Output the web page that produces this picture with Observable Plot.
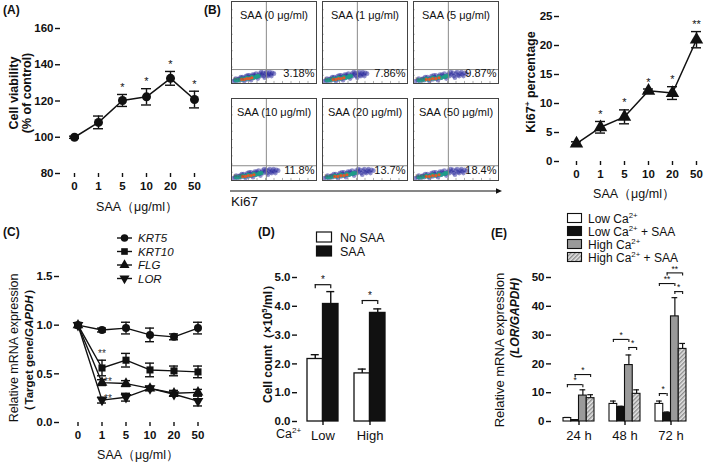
<!DOCTYPE html>
<html><head><meta charset="utf-8">
<script src="https://cdn.jsdelivr.net/npm/d3@7"></script>
<script src="https://cdn.jsdelivr.net/npm/@observablehq/plot@0.6"></script>
<style>
html,body{margin:0;padding:0;background:#fff}
#fig{position:relative;width:709px;height:462px;overflow:hidden;font-family:"Liberation Sans",Arial,Helvetica,sans-serif}
</style></head><body><div id="fig"></div>
<script>
// ---------------- DATA ----------------
const doses = ["0","1","5","10","20","50"];
// (A) cell viability
const viability    = [100, 108.2, 120.3, 122.3, 132.5, 120.8];
const viabilityErr = [0.6, 3.5, 3.3, 4.5, 3.8, 4.6];
const viabilitySig = ["", "", "*", "*", "*", "*"];
// (B) Ki67+ percentage
const ki67Pct = [3.1, 5.9, 7.7, 12.2, 11.8, 21.0];
const ki67Err = [0.3, 1.0, 1.2, 0.3, 1.1, 1.4];
const ki67Sig = ["", "*", "*", "*", "*", "**"];
// (B) flow cytometry panels
const flowCol = [0, 1, 2, 0, 1, 2];
const flowRow = [0, 0, 0, 1, 1, 1];
const flowTitles = ["SAA (0 μg/ml)", "SAA (1 μg/ml)", "SAA (5 μg/ml)", "SAA (10 μg/ml)", "SAA (20 μg/ml)", "SAA (50 μg/ml)"];
const flowPct = ["3.18%", "7.86%", "9.87%", "11.8%", "13.7%", "18.4%"];
const flowNeg = ["96.8%", "92.1%", "90.1%", "88.2%", "86.3%", "81.6%"];
const flowGateX = [41, 41, 41, 41, 41, 41];
const flowGateY = [17, 17, 17, 18, 18, 18];
const flowSpread = [1.0, 1.05, 1.25, 1.1, 1.2, 1.25];
const flowTicks = [10, 20, 30, 40, 50, 60, 70, 80, 90];
// cloud shape (percent of box)
const blueCloudX = [2,4,6,8,10,12,14,16,18,20,22,24,26,28,30,32,34,36,38,40,42,44,46,48,50,5,9,13,17,21,25,29,33,37,41,45,15,23,31,39,47,11,19,27,35,43];
const blueCloudY = [3,4,3,5,4,6,5,7,5,8,6,9,7,9,8,10,9,11,9,12,10,12,11,13,12,6,6,8,9,10,11,12,12,13,14,14,3,4,6,7,9,8,10,11,14,9];
const greenCloudX = [5,8,11,14,17,20,23,26,29,32,12,18,24,30];
const greenCloudY = [4,4,5,5,6,6,7,7,8,9,6,7,8,9];
const redCloudX = [12,15,18,21,24];
const redCloudY = [5,5,6,6,7];
// (C) relative mRNA expression
const genes = ["KRT5", "KRT10", "FLG", "LOR"];
const krt5Expr  = [1.0, 0.95, 0.97, 0.90, 0.88, 0.97];
const krt5Err   = [0, 0.02, 0.06, 0.07, 0.03, 0.06];
const krt10Expr = [1.0, 0.56, 0.64, 0.54, 0.53, 0.52];
const krt10Err  = [0, 0.08, 0.07, 0.07, 0.05, 0.06];
const flgExpr   = [1.0, 0.41, 0.40, 0.35, 0.30, 0.31];
const flgErr    = [0, 0.03, 0.03, 0.02, 0.03, 0.03];
const lorExpr   = [1.0, 0.23, 0.26, 0.35, 0.29, 0.22];
const lorErr    = [0, 0.03, 0.04, 0.02, 0.02, 0.05];
const cStarGenes = ["KRT10", "FLG", "LOR"];
// (D) cell count
const calcium = ["Low", "High"];
const countNoSAA = [2.17, 1.67];
const countNoSAAErr = [0.15, 0.15];
const countSAA = [4.08, 3.77];
const countSAAErr = [0.43, 0.14];
const dBracketLevel = [4.75, 4.2];
const dBracketLabel = ["*", "*"];
// (E) LOR expression
const times = ["24 h", "48 h", "72 h"];
const eSeriesNames = ["Low Ca²⁺", "Low Ca²⁺ + SAA", "High Ca²⁺", "High Ca²⁺ + SAA"];
const lorLowCa = [1.2, 6.1, 6.1];
const lorLowCaErr = [0.2, 1.0, 1.0];
const lorLowCaSAA = [0.5, 5.0, 2.9];
const lorLowCaSAAErr = [0.1, 0.3, 0.4];
const lorHighCa = [9.0, 19.6, 36.5];
const lorHighCaErr = [2.0, 3.5, 6.5];
const lorHighCaSAA = [8.1, 9.6, 25.2];
const lorHighCaSAAErr = [1.2, 1.4, 1.9];
const eBrTime  = ["24 h", "24 h", "48 h", "48 h", "72 h", "72 h", "72 h", "72 h"];
const eBrFrom  = [0, 1, 0, 2, 0, 0, 1, 2];
const eBrTo    = [2, 3, 2, 3, 1, 2, 3, 3];
const eBrLevel = [12.8, 16.3, 28.5, 25.7, 9.7, 47.9, 51.6, 45.1];
const eBrLabel = ["*", "*", "*", "*", "*", "**", "**", "*"];

// ---------------- HELPERS ----------------
const FONT = '"Liberation Sans", Arial, Helvetica, sans-serif';
const fig = document.getElementById("fig");
const baseStyle = {fontFamily: FONT, fontSize: "11.5px", fontWeight: "bold", color: "#111", background: "transparent", overflow: "visible"};
function place(el, left, top) {
  el.style.position = "absolute"; el.style.left = left + "px"; el.style.top = top + "px";
  fig.appendChild(el);
}
function bandX(domain, c0, cN, bw) {
  const n = domain.length, s = (cN - c0) / (n - 1), p = 1 - bw / s;
  return {type: "band", domain, range: [c0 - bw / 2, cN + bw / 2], paddingInner: p, paddingOuter: 0};
}
const sqrt3 = Math.sqrt(3);
const triangleDown = {draw(ctx, size) {
  const y = -Math.sqrt(size / (sqrt3 * 3));
  ctx.moveTo(0, -y * 2); ctx.lineTo(-sqrt3 * y, y); ctx.lineTo(sqrt3 * y, y); ctx.closePath();
}};
const SW = 1.4;
const INK = "#111";

// ---------------- (A) ----------------
const dataA = doses.map((d, i) => ({dose: d, v: viability[i], e: viabilityErr[i], sig: viabilitySig[i]}));
place(Plot.plot({
  width: 215, height: 225, marginLeft: 60, marginRight: 15, marginTop: 28, marginBottom: 52,
  style: baseStyle,
  x: bandX(doses, 73, 194, 10),
  y: {domain: [80, 160]},
  marks: [
    Plot.axisY({ticks: [80, 100, 120, 140, 160], tickSize: 5, tickPadding: 2, label: null, line: true, strokeWidth: SW}),
    Plot.axisX({tickSize: 4, tickPadding: 4, label: null, line: true, strokeWidth: SW}),
    Plot.ruleX(dataA, {x: "dose", y1: d => d.v - d.e, y2: d => d.v + d.e, strokeWidth: SW}),
    Plot.tickY(dataA, {x: "dose", y: d => d.v + d.e, strokeWidth: SW}),
    Plot.tickY(dataA, {x: "dose", y: d => d.v - d.e, strokeWidth: SW}),
    Plot.line(dataA, {x: "dose", y: "v", strokeWidth: 1.5}),
    Plot.dot(dataA, {x: "dose", y: "v", r: 4.5, fill: INK}),
    Plot.text(dataA, {x: "dose", y: d => d.v + d.e, text: "sig", dy: -7, fontSize: 11, fontWeight: "normal", fill: INK})
  ]
}), 0, 0);

// ---------------- (B) flow cytometry ----------------
const flowBoxes = flowTitles.map((t, i) => ({col: flowCol[i], row: flowRow[i], title: t, pct: flowPct[i], neg: flowNeg[i], gx: flowGateX[i], gy: flowGateY[i]}));
const cloud = (xs, ys) => flowBoxes.flatMap((b, i) => xs.map((x, j) => ({col: b.col, row: b.row, x: x * flowSpread[i], y: ys[j]})));
const blueDots = cloud(blueCloudX, blueCloudY);
const greenDots = cloud(greenCloudX, greenCloudY);
const redDots = cloud(redCloudX, redCloudY);
const tickRows = flowBoxes.flatMap(b => flowTicks.map(t => ({col: b.col, row: b.row, t})));
place(Plot.plot({
  width: 273, height: 181, marginLeft: 3, marginRight: 3, marginTop: 1, marginBottom: 1,
  style: {...baseStyle, fontWeight: "normal"},
  fx: {domain: [0, 1, 2], paddingInner: 6 / 91, paddingOuter: 0, axis: null},
  fy: {domain: [0, 1], paddingInner: 15 / 97, paddingOuter: 0, axis: null},
  x: {domain: [0, 100], axis: null},
  y: {domain: [0, 100], axis: null},
  marks: [
    Plot.dot(blueDots, {fx: "col", fy: "row", x: "x", y: "y", r: 2.3, fill: "#25259a", fillOpacity: 0.5}),
    Plot.dot(greenDots, {fx: "col", fy: "row", x: "x", y: "y", r: 2.2, fill: "#1c9f86", fillOpacity: 0.85}),
    Plot.dot(redDots, {fx: "col", fy: "row", x: "x", y: "y", r: 1.6, fill: "#e0582a"}),
    Plot.ruleX(flowBoxes, {fx: "col", fy: "row", x: "gx", stroke: "#8a8a8a", strokeWidth: 1}),
    Plot.ruleY(flowBoxes, {fx: "col", fy: "row", y: "gy", stroke: "#8a8a8a", strokeWidth: 1}),
    Plot.ruleX(tickRows, {fx: "col", fy: "row", x: "t", y1: 0, y2: 2.5, stroke: "#777", strokeWidth: 0.6}),
    Plot.ruleY(tickRows, {fx: "col", fy: "row", y: "t", x1: 0, x2: 2, stroke: "#777", strokeWidth: 0.6}),
    Plot.frame({stroke: "#444", strokeWidth: 1}),
    Plot.text(flowBoxes, {fx: "col", fy: "row", text: "title", frameAnchor: "top", dy: 10, fontSize: 11, fill: INK}),
    Plot.text(flowBoxes, {fx: "col", fy: "row", text: "pct", frameAnchor: "bottom-right", dx: -2, dy: -7, fontSize: 11, fill: INK}),
    Plot.text(flowBoxes, {fx: "col", fy: "row", text: "neg", frameAnchor: "bottom-left", dx: 2, dy: -4, fontSize: 3.5, fill: "#555"})
  ]
}), 228, 0);

// ---------------- (B) Ki67 line ----------------
const dataB = doses.map((d, i) => ({dose: d, v: ki67Pct[i], e: ki67Err[i], sig: ki67Sig[i]}));
place(Plot.plot({
  width: 209, height: 225, marginLeft: 59, marginRight: 6, marginTop: 16, marginBottom: 64,
  style: baseStyle,
  x: bandX(doses, 75, 196, 10),
  y: {domain: [0, 25]},
  marks: [
    Plot.axisY({ticks: [0, 5, 10, 15, 20, 25], tickSize: 5, tickPadding: 2, label: null, line: true, strokeWidth: SW}),
    Plot.axisX({tickSize: 4, tickPadding: 4, label: null, line: true, strokeWidth: SW}),
    Plot.ruleX(dataB, {x: "dose", y1: d => d.v - d.e, y2: d => d.v + d.e, strokeWidth: SW}),
    Plot.tickY(dataB, {x: "dose", y: d => d.v + d.e, strokeWidth: SW}),
    Plot.tickY(dataB, {x: "dose", y: d => d.v - d.e, strokeWidth: SW}),
    Plot.line(dataB, {x: "dose", y: "v", strokeWidth: 1.5}),
    Plot.dot(dataB, {x: "dose", y: "v", r: 5, symbol: "triangle", fill: INK}),
    Plot.text(dataB, {x: "dose", y: d => d.v + d.e, text: "sig", dy: -7, fontSize: 11, fontWeight: "normal", fill: INK})
  ]
}), 500, 0);

// ---------------- (C) ----------------
const cVals = [krt5Expr, krt10Expr, flgExpr, lorExpr];
const cErrs = [krt5Err, krt10Err, flgErr, lorErr];
const dataC = genes.flatMap((g, gi) => doses.map((d, i) => ({gene: g, dose: d, v: cVals[gi][i], e: cErrs[gi][i]})));
const errC = dataC.filter(d => d.e > 0);
const starsC = dataC.filter(d => d.dose === "1" && cStarGenes.includes(d.gene));
place(Plot.plot({
  width: 225, height: 237, marginLeft: 59, marginRight: 22, marginTop: 51, marginBottom: 40,
  style: baseStyle,
  x: bandX(doses, 77, 198, 9),
  y: {domain: [0, 1.5]},
  symbol: {domain: genes, range: [d3.symbolCircle, d3.symbolSquare, d3.symbolTriangle, triangleDown]},
  marks: [
    Plot.axisY({ticks: [0, 0.5, 1, 1.5], tickFormat: d3.format(".1f"), tickSize: 5, tickPadding: 2, label: null, line: true, strokeWidth: SW}),
    Plot.axisX({tickSize: 4, tickPadding: 4, label: null, line: true, strokeWidth: SW}),
    Plot.ruleX(errC, {x: "dose", y1: d => d.v - d.e, y2: d => d.v + d.e, strokeWidth: SW}),
    Plot.tickY(errC, {x: "dose", y: d => d.v + d.e, strokeWidth: SW}),
    Plot.tickY(errC, {x: "dose", y: d => d.v - d.e, strokeWidth: SW}),
    Plot.line(dataC, {x: "dose", y: "v", z: "gene", strokeWidth: 1.4}),
    Plot.dot(dataC, {x: "dose", y: "v", symbol: "gene", r: 4, fill: INK}),
    Plot.text(starsC.filter(d => d.gene === "KRT10"), {x: "dose", y: d => d.v + d.e, text: () => "**", dy: -6, fontSize: 10, fontWeight: "normal", fill: "#333"}),
    Plot.text(starsC.filter(d => d.gene !== "KRT10"), {x: "dose", y: d => d.v + d.e, text: () => "**", dx: 2, dy: 2, textAnchor: "start", fontSize: 10, fontWeight: "normal", fill: "#333"})
  ]
}), 0, 225);

// ---------------- (D) ----------------
const bwD = 31, hD = bwD / 2;
const dataD = calcium.map((c, i) => ({ca: c, no: countNoSAA[i], noE: countNoSAAErr[i], saa: countSAA[i], saaE: countSAAErr[i], level: dBracketLevel[i], label: dBracketLabel[i]}));
place(Plot.plot({
  width: 180, height: 237, marginLeft: 72, marginRight: 10, marginTop: 52, marginBottom: 41,
  style: baseStyle,
  x: bandX(calcium, 322 - 225, 369.5 - 225, bwD),
  y: {domain: [0, 5]},
  marks: [
    Plot.ruleX(dataD, {x: "ca", y1: "no", y2: d => d.no + d.noE, dx: -hD / 2, strokeWidth: SW}),
    Plot.tickY(dataD, {x: "ca", y: d => d.no + d.noE, insetLeft: hD / 2 - 4, insetRight: bwD - hD / 2 - 4, strokeWidth: SW}),
    Plot.ruleX(dataD, {x: "ca", y1: "saa", y2: d => d.saa + d.saaE, dx: hD / 2, strokeWidth: SW}),
    Plot.tickY(dataD, {x: "ca", y: d => d.saa + d.saaE, insetLeft: bwD - hD / 2 - 4, insetRight: hD / 2 - 4, strokeWidth: SW}),
    Plot.barY(dataD, {x: "ca", y: "no", fill: "white", stroke: INK, strokeWidth: 1.3, insetRight: hD}),
    Plot.barY(dataD, {x: "ca", y: "saa", fill: INK, stroke: INK, strokeWidth: 1.3, insetLeft: hD}),
    Plot.tickY(dataD, {x: "ca", y: "level", insetLeft: hD / 2, insetRight: hD / 2, strokeWidth: 1.2}),
    Plot.ruleX(dataD, {x: "ca", y1: "level", y2: "level", insetBottom: -4, dx: -hD / 2, strokeWidth: 1.2}),
    Plot.ruleX(dataD, {x: "ca", y1: "level", y2: "level", insetBottom: -4, dx: hD / 2, strokeWidth: 1.2}),
    Plot.text(dataD, {x: "ca", y: "level", text: "label", dy: -5, fontSize: 10, fontWeight: "normal", fill: INK}),
    Plot.axisY({ticks: [0, 1, 2, 3, 4, 5], tickSize: 5, tickPadding: 2, label: null, line: true, strokeWidth: SW}),
    Plot.axisX({tickSize: 4, tickPadding: 5, label: null, line: true, strokeWidth: SW, fontWeight: "normal", fontSize: 13})
  ]
}), 225, 225);

// ---------------- (E) ----------------
const bwE = 31, qE = bwE / 4;
const eVals = [lorLowCa, lorLowCaSAA, lorHighCa, lorHighCaSAA];
const eErrs = [lorLowCaErr, lorLowCaSAAErr, lorHighCaErr, lorHighCaSAAErr];
const eFills = ["white", INK, "#9a9a9a", "url(#hatchE)"];
const eMarks = [];
eVals.forEach((vals, k) => {
  const rows = times.map((t, i) => ({time: t, v: vals[i], e: eErrs[k][i]}));
  eMarks.push(
    Plot.ruleX(rows, {x: "time", y1: "v", y2: d => d.v + d.e, dx: (k - 1.5) * qE, strokeWidth: 1.2}),
    Plot.tickY(rows, {x: "time", y: d => d.v + d.e, insetLeft: k * qE + 1, insetRight: (3 - k) * qE + 1, strokeWidth: 1.2}),
    Plot.barY(rows, {x: "time", y: "v", fill: eFills[k], stroke: INK, strokeWidth: 1.1, insetLeft: k * qE, insetRight: (3 - k) * qE})
  );
});
eBrTime.forEach((t, i) => {
  const b = [{time: t, level: eBrLevel[i], label: eBrLabel[i]}];
  const f = eBrFrom[i], to = eBrTo[i];
  eMarks.push(
    Plot.tickY(b, {x: "time", y: "level", insetLeft: (f + 0.5) * qE, insetRight: (3.5 - to) * qE, strokeWidth: 1.1}),
    Plot.ruleX(b, {x: "time", y1: "level", y2: "level", insetBottom: -3, dx: (f - 1.5) * qE, strokeWidth: 1.1}),
    Plot.ruleX(b, {x: "time", y1: "level", y2: "level", insetBottom: -3, dx: (to - 1.5) * qE, strokeWidth: 1.1}),
    Plot.text(b, {x: "time", y: "level", text: "label", dx: ((f + to) / 2 - 1.5) * qE, dy: -4, fontSize: 8.5, fontWeight: "normal", fill: INK})
  );
});
place(Plot.plot({
  width: 249, height: 237, marginLeft: 91, marginRight: 14, marginTop: 52, marginBottom: 41,
  style: baseStyle,
  x: bandX(times, 578 - 460, 670 - 460, bwE),
  y: {domain: [0, 50]},
  marks: [
    ...eMarks,
    Plot.axisY({ticks: [0, 10, 20, 30, 40, 50], tickSize: 5, tickPadding: 2, label: null, line: true, strokeWidth: SW}),
    Plot.axisX({tickSize: 4, tickPadding: 5, label: null, line: true, strokeWidth: SW, fontWeight: "normal", fontSize: 13})
  ]
}), 460, 225);

// ---------------- OVERLAY: labels, legends ----------------
const ov = d3.create("svg").attr("width", 709).attr("height", 462)
  .style("position", "absolute").style("left", "0px").style("top", "0px")
  .style("font-family", FONT).style("pointer-events", "none").style("overflow", "visible");
const defs = ov.append("defs");
const pat = defs.append("pattern").attr("id", "hatchE").attr("patternUnits", "userSpaceOnUse")
  .attr("width", 3).attr("height", 3).attr("patternTransform", "rotate(45)");
pat.append("rect").attr("width", 3).attr("height", 3).attr("fill", "#e4e4e4");
pat.append("line").attr("x1", 0.75).attr("y1", 0).attr("x2", 0.75).attr("y2", 3).attr("stroke", "#777").attr("stroke-width", 1.1);

function label(x, y, segs, {size = 12, weight = "normal", anchor = "start", rotate = 0} = {}) {
  const t = ov.append("text").attr("transform", `translate(${x},${y}) rotate(${rotate})`)
    .attr("text-anchor", anchor).attr("font-size", size).attr("font-weight", weight).attr("fill", INK);
  if (typeof segs === "string") segs = [{t: segs}];
  let shifted = 0;
  segs.forEach(s => {
    const ts = t.append("tspan").text(s.t);
    if (s.i) ts.attr("font-style", "italic");
    if (s.w) ts.attr("font-weight", s.w);
    if (s.sup) { ts.attr("dy", -size * 0.4).attr("font-size", size * 0.65); shifted = size * 0.4; }
    else if (shifted) { ts.attr("dy", shifted); shifted = 0; }
  });
  return t;
}
// panel letters
label(3, 14, "(A)", {size: 12, weight: "bold"});
label(204, 14, "(B)", {size: 12, weight: "bold"});
label(3, 236, "(C)", {size: 12, weight: "bold"});
label(258, 236, "(D)", {size: 12, weight: "bold"});
label(491, 237, "(E)", {size: 12, weight: "bold"});
// (A) titles
label(18, 93, "Cell viability", {size: 12.5, weight: "bold", anchor: "middle", rotate: -90});
label(31, 93, "(% of control)", {size: 12.5, weight: "bold", anchor: "middle", rotate: -90});
label(137, 211, "SAA（μg/ml）", {size: 12.5, anchor: "middle"});
// (B) titles
label(535, 82, [{t: "Ki67"}, {t: "+", sup: true}, {t: " percentage"}], {size: 12.5, weight: "bold", anchor: "middle", rotate: -90});
label(634, 198, "SAA（μg/ml）", {size: 12.5, anchor: "middle"});
// Ki67 arrow
ov.append("line").attr("x1", 230).attr("x2", 497).attr("y1", 191).attr("y2", 191).attr("stroke", INK).attr("stroke-width", 1.2);
ov.append("path").attr("d", "M496,188.2L502,191L496,193.8Z").attr("fill", INK);
label(231, 206, "Ki67", {size: 13.5});
// (C) titles
label(18, 348, "Relative mRNA expression", {size: 12.5, anchor: "middle", rotate: -90});
label(33, 350, [{t: "（Target gene/"}, {t: "GAPDH", i: true}, {t: "）"}], {size: 11.5, weight: "bold", anchor: "middle", rotate: -90});
label(138, 459, "SAA（μg/ml）", {size: 12.5, anchor: "middle"});
// (C) legend
const cLegY = [238, 251.5, 265, 278.5];
const cSyms = [d3.symbolCircle, d3.symbolSquare, d3.symbolTriangle, triangleDown];
genes.forEach((g, i) => {
  ov.append("line").attr("x1", 117).attr("x2", 132).attr("y1", cLegY[i]).attr("y2", cLegY[i]).attr("stroke", INK).attr("stroke-width", 1.4);
  ov.append("path").attr("d", d3.symbol(cSyms[i], Math.PI * 14)()).attr("transform", `translate(124.5,${cLegY[i]})`).attr("fill", INK);
  label(138, cLegY[i] + 4, [{t: g, i: true}], {size: 11.5});
});
// (D) titles and legend
label(272, 341, [{t: "Cell count（×10"}, {t: "5", sup: true}, {t: "/ml）"}], {size: 12, weight: "bold", anchor: "middle", rotate: -90});
label(276, 438, [{t: "Ca"}, {t: "2+", sup: true}], {size: 12.5});
const dLegY = [237, 251];
["No SAA", "SAA"].forEach((n, i) => {
  ov.append("rect").attr("x", 316.5).attr("y", dLegY[i] - 5).attr("width", 15).attr("height", 10)
    .attr("fill", i ? INK : "white").attr("stroke", INK).attr("stroke-width", 1.2);
  label(340, dLegY[i] + 4.5, n, {size: 12.5});
});
// (E) titles and legend
label(504, 350, "Relative mRNA expression", {size: 13, anchor: "middle", rotate: -90});
label(519, 318, "(LOR/GAPDH)", {size: 12, weight: "bold", anchor: "middle", rotate: -90}).attr("font-style", "italic");
const eLegY = [218, 231, 244, 257];
const eLegSegs = [
  [{t: "Low Ca"}, {t: "2+", sup: true}],
  [{t: "Low Ca"}, {t: "2+", sup: true}, {t: " + SAA"}],
  [{t: "High Ca"}, {t: "2+", sup: true}],
  [{t: "High Ca"}, {t: "2+", sup: true}, {t: " + SAA"}]
];
eSeriesNames.forEach((n, i) => {
  ov.append("rect").attr("x", 567.5).attr("y", eLegY[i] - 4.5).attr("width", 14).attr("height", 9)
    .attr("fill", eFills[i]).attr("stroke", INK).attr("stroke-width", 1.1);
  label(588, eLegY[i] + 4.5, eLegSegs[i], {size: 12});
});
fig.appendChild(ov.node());
</script></body></html>
